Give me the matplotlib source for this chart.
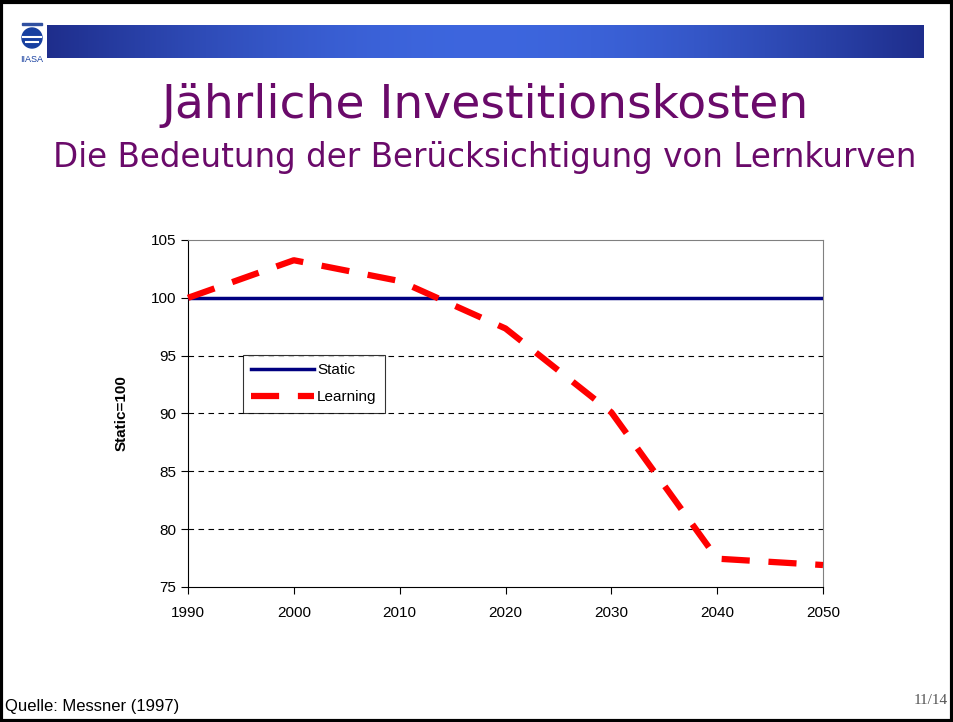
import numpy as np
import matplotlib.pyplot as plt
from matplotlib.patches import Rectangle, Circle

# Daten
jahre = [1990, 2000, 2010, 2020, 2030, 2040, 2050]
static = [100, 100, 100, 100, 100, 100, 100]
learning = [100, 103.25, 101.45, 97.35, 90.1, 77.45, 76.9]
y_ticks = [75, 80, 85, 90, 95, 100, 105]
x_ticks = [1990, 2000, 2010, 2020, 2030, 2040, 2050]

purple = '#6a0a6a'

fig = plt.figure(figsize=(9.54, 7.22), dpi=100)

# Folienrahmen
bg = fig.add_axes([0, 0, 1, 1])
bg.set_xlim(0, 954)
bg.set_ylim(722, 0)
bg.axis('off')
bg.add_patch(Rectangle((1.5, 1.5), 951, 719, fill=False, lw=3, ec='black'))

# Banner mit Farbverlauf
grad = np.linspace(0, 1, 300)
col = np.zeros((1, 300, 3))
col[0, :, 0] = 0.12 + 0.12 * np.sin(grad * np.pi)
col[0, :, 1] = 0.18 + 0.22 * np.sin(grad * np.pi)
col[0, :, 2] = 0.55 + 0.32 * np.sin(grad * np.pi)
bg.imshow(col, extent=(47, 924, 58, 25), aspect='auto', zorder=1)

# Logo
bg.add_patch(Rectangle((22, 23), 20, 2, color='#3050a0', zorder=2))
bg.add_patch(Circle((32, 38), 10, color='#1840a0', zorder=2))
bg.plot([23, 41], [37, 37], color='white', lw=1.5, zorder=3)
bg.plot([26, 38], [42, 42], color='white', lw=1.5, zorder=3)
bg.text(32, 60, 'IIASA', fontsize=6.5, ha='center', va='center', color='#1840a0',
        family='Liberation Sans', zorder=3)

# Titel
bg.text(485, 105, 'Jährliche Investitionskosten', fontsize=34, color=purple,
        ha='center', va='center', family='DejaVu Sans')
bg.text(485, 158, 'Die Bedeutung der Berücksichtigung von Lernkurven', fontsize=23.5,
        color=purple, ha='center', va='center', family='DejaVu Sans')

# Fusszeile
bg.text(5, 707, 'Quelle: Messner (1997)', fontsize=12, ha='left', va='center',
        family='Liberation Sans')
bg.text(948, 700, '11/14', fontsize=11, ha='right', va='center', color='#555555',
        family='Liberation Serif')

# Diagramm
ax = fig.add_axes([188 / 954, 135 / 722, 635 / 954, 347 / 722])
ax.plot(jahre, static, color='#000080', lw=2.5, label='Static', zorder=3)
ax.plot(jahre, learning, color='#ff0000', lw=4.5, dashes=(4.5, 3), label='Learning',
        zorder=4, clip_on=False)

ax.set_xlim(1990, 2050)
ax.set_ylim(75, 105)
ax.set_xticks(x_ticks)
ax.set_yticks(y_ticks)
for y in [80, 85, 90, 95]:
    ax.axhline(y, color='black', lw=0.8, dashes=(5, 4), zorder=1)

for s in ['top', 'right']:
    ax.spines[s].set_color('#808080')
for s in ['left', 'bottom']:
    ax.spines[s].set_color('black')
ax.tick_params(direction='out', length=5, labelsize=11, colors='black')
ax.tick_params(axis='x', pad=9)
for lbl in ax.get_xticklabels() + ax.get_yticklabels():
    lbl.set_family('Liberation Sans')
ax.set_ylabel('Static=100', fontsize=11, fontweight='bold', family='Liberation Sans',
              labelpad=16)

leg = ax.legend(loc='upper left', bbox_to_anchor=(55 / 635, 232 / 347), frameon=True,
                fancybox=False, edgecolor='black', handlelength=4.1,
                borderpad=0.55, labelspacing=0.85, handletextpad=0.2, borderaxespad=0,
                prop={'family': 'Liberation Sans', 'size': 11})
leg.get_frame().set_linewidth(0.8)

fig.savefig('out.png', dpi=100)
